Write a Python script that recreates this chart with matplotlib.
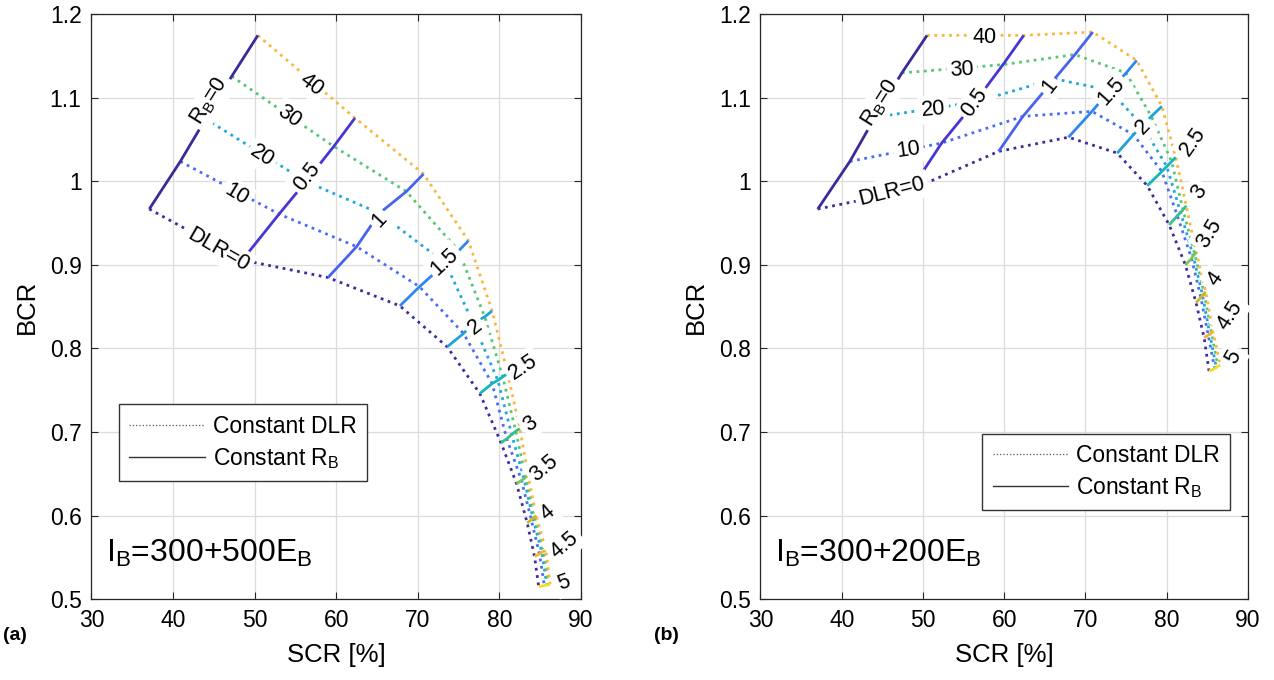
import matplotlib.pyplot as plt
from matplotlib.lines import Line2D
from matplotlib.ticker import FixedLocator, FixedFormatter

plt.rcParams['font.family'] = ['Liberation Sans', 'DejaVu Sans']
plt.rcParams['mathtext.fontset'] = 'custom'
plt.rcParams['mathtext.rm'] = 'Liberation Sans'

# grid of operating points: rows = DLR, columns = R_B
DLR = [0, 10, 20, 30, 40]
RB = [0, 0.5, 1, 1.5, 2, 2.5, 3, 3.5, 4, 4.5, 5]
RB_TEXT = ['R$_\\mathregular{B}$=0', '0.5', '1', '1.5', '2', '2.5', '3', '3.5', '4', '4.5', '5']
DLR_TEXT = ['DLR=0', '10', '20', '30', '40']

# panel (a): I_B = 300 + 500 E_B
SCR_A = [
    [37.1, 48.5, 59.0, 67.8, 73.6, 77.6, 80.2, 82.1, 83.4, 84.3, 84.8],
    [40.9, 53.0, 62.5, 70.2, 75.6, 79.1, 80.9, 82.7, 83.9, 84.9, 85.5],
    [44.0, 56.3, 65.3, 73.4, 76.8, 79.8, 81.5, 83.0, 84.1, 85.2, 85.8],
    [47.2, 59.7, 68.6, 75.0, 78.2, 80.4, 82.0, 83.2, 84.3, 85.4, 86.0],
    [50.4, 62.3, 70.7, 76.2, 79.1, 81.0, 82.5, 83.5, 84.5, 85.7, 86.2],
]
BCR_A = [
    [0.967, 0.906, 0.885, 0.851, 0.802, 0.746, 0.687, 0.638, 0.591, 0.551, 0.515],
    [1.024, 0.961, 0.922, 0.874, 0.818, 0.758, 0.692, 0.642, 0.595, 0.554, 0.516],
    [1.075, 1.000, 0.962, 0.902, 0.830, 0.762, 0.697, 0.644, 0.597, 0.556, 0.517],
    [1.126, 1.042, 0.988, 0.917, 0.838, 0.766, 0.701, 0.646, 0.598, 0.557, 0.517],
    [1.175, 1.076, 1.009, 0.929, 0.845, 0.770, 0.704, 0.648, 0.600, 0.558, 0.518],
]

# panel (b): I_B = 300 + 200 E_B
SCR_B = [
    [37.05, 48.5, 59.3, 67.9, 73.9, 77.6, 80.3, 82.3, 83.6, 84.6, 85.2],
    [41.0, 52.3, 62.3, 70.8, 75.9, 79.4, 81.3, 83.05, 84.2, 85.1, 85.9],
    [44.1, 56.4, 66.2, 73.0, 77.0, 80.0, 81.7, 83.25, 84.4, 85.3, 86.1],
    [47.4, 59.85, 68.7, 75.0, 78.1, 80.6, 82.0, 83.45, 84.6, 85.5, 86.3],
    [50.5, 62.4, 70.9, 76.3, 79.4, 81.1, 82.4, 83.6, 84.8, 85.7, 86.6],
]
BCR_B = [
    [0.967, 0.990, 1.036, 1.053, 1.034, 0.995, 0.948, 0.900, 0.855, 0.813, 0.773],
    [1.024, 1.046, 1.078, 1.084, 1.056, 1.012, 0.959, 0.908, 0.861, 0.816, 0.776],
    [1.077, 1.095, 1.123, 1.109, 1.067, 1.018, 0.963, 0.911, 0.864, 0.817, 0.777],
    [1.130, 1.140, 1.152, 1.130, 1.078, 1.024, 0.966, 0.913, 0.866, 0.819, 0.779],
    [1.175, 1.175, 1.179, 1.145, 1.090, 1.029, 0.971, 0.916, 0.868, 0.820, 0.780],
]

DLR_COLORS = ['#3e2c9e', '#4a6ef2', '#1da8dd', '#55c878', '#fbb63c']
RB_COLORS = ['#3b2a98', '#4636d4', '#4a62f0', '#2f86ee', '#1ea2da', '#10b7bb',
             '#38bf8c', '#7cc35a', '#c9b72c', '#f8b232', '#f2e01e']

# inline label placement (x, y, rotation) for each panel
DLR_LAB_A = [(45.6, 0.918, -30), (47.8, 0.984, -31), (50.9, 1.030, -33),
             (54.3, 1.078, -35), (57.0, 1.116, -37)]
RB_LAB_A = [(44.5, 1.096, 58), (56.4, 1.006, 52), (65.3, 0.954, 47), (73.3, 0.904, 43),
            (77.0, 0.826, 38), (82.9, 0.778, 34), (83.8, 0.710, 38), (85.5, 0.657, 40),
            (85.9, 0.603, 40), (88.0, 0.565, 40), (87.9, 0.519, 20)]
DLR_LAB_B = [(46.15, 0.988, 14), (48.2, 1.038, 8), (51.3, 1.086, 5),
             (54.8, 1.134, 3), (57.6, 1.173, 0)]
RB_LAB_B = [(44.7, 1.094, 58), (56.4, 1.094, 54), (65.6, 1.114, 52), (73.2, 1.108, 48),
            (77.1, 1.066, 46), (83.2, 1.048, 55), (84.0, 0.988, 55), (85.2, 0.938, 58),
            (86.0, 0.883, 55), (87.8, 0.840, 57), (88.2, 0.790, 60)]


def draw_panel(ax, scr, bcr, dlr_lab, rb_lab, note, leg_anchor):
    # constant DLR lines (dotted)
    for i in range(len(DLR)):
        ax.plot(scr[i], bcr[i], ls=':', lw=2.0, color=DLR_COLORS[i], zorder=3)
    # constant R_B lines (solid)
    for j in range(len(RB)):
        xs = [scr[i][j] for i in range(len(DLR))]
        ys = [bcr[i][j] for i in range(len(DLR))]
        ax.plot(xs, ys, ls='-', lw=2.0, color=RB_COLORS[j], zorder=3,
                solid_capstyle='butt')

    box = dict(facecolor='white', edgecolor='none', pad=2.5)
    for (x, y, r), s in zip(dlr_lab, DLR_TEXT):
        ax.text(x, y, s, rotation=r, rotation_mode='anchor', ha='center',
                va='center', fontsize=15.5, bbox=box, zorder=6)
    for (x, y, r), s in zip(rb_lab, RB_TEXT):
        ax.text(x, y, s, rotation=r, rotation_mode='anchor', ha='center',
                va='center', fontsize=15.5, bbox=box, zorder=6)

    ax.text(31.8, 0.555, note, fontsize=23, ha='left', va='center')

    handles = [Line2D([], [], ls=':', lw=0.9, color='#555555'),
               Line2D([], [], ls='-', lw=1.0, color='#333333')]
    leg = ax.legend(handles, ['Constant DLR', 'Constant R$_\\mathregular{B}$'],
                    loc='lower left', bbox_to_anchor=leg_anchor, fontsize=16.5,
                    fancybox=False, framealpha=1, edgecolor='#333333',
                    handlelength=3.3, handletextpad=0.35, borderpad=0.45,
                    labelspacing=0.35, borderaxespad=0)
    leg.get_frame().set_linewidth(1.0)

    ax.set_xlim(30, 90)
    ax.set_ylim(0.5, 1.2)
    ax.xaxis.set_major_locator(FixedLocator([30, 40, 50, 60, 70, 80, 90]))
    ax.yaxis.set_major_locator(FixedLocator([0.5, 0.6, 0.7, 0.8, 0.9, 1.0, 1.1, 1.2]))
    ax.yaxis.set_major_formatter(FixedFormatter(['0.5', '0.6', '0.7', '0.8', '0.9',
                                                 '1', '1.1', '1.2']))
    ax.grid(True, color='#dcdcdc', lw=0.9, zorder=0)
    ax.set_axisbelow(True)
    ax.tick_params(direction='in', top=True, right=True, length=5, width=0.8,
                   labelsize=16.5, colors='#262626', labelcolor='black', pad=7)
    for sp in ax.spines.values():
        sp.set_color('#262626')
        sp.set_linewidth(0.9)
    ax.set_xlabel('SCR [%]', fontsize=18.5, labelpad=8)
    ax.set_ylabel('BCR', fontsize=18.5, labelpad=8)


fig = plt.figure(figsize=(12.74, 6.8), dpi=100)
ax_a = fig.add_axes([0.0717, 0.1191, 0.3844, 0.8596])
ax_b = fig.add_axes([0.5969, 0.1191, 0.3827, 0.8596])

draw_panel(ax_a, SCR_A, BCR_A, DLR_LAB_A, RB_LAB_A,
           '$\\mathregular{I_B}$=300+500$\\mathregular{E_B}$', (0.0566, 0.202))
draw_panel(ax_b, SCR_B, BCR_B, DLR_LAB_B, RB_LAB_B,
           '$\\mathregular{I_B}$=300+200$\\mathregular{E_B}$', (0.455, 0.152))

fig.text(0.002, 0.066, '(a)', fontsize=14, fontweight='bold', va='center')
fig.text(0.513, 0.066, '(b)', fontsize=14, fontweight='bold', va='center')

fig.savefig('out.png', dpi=100)
